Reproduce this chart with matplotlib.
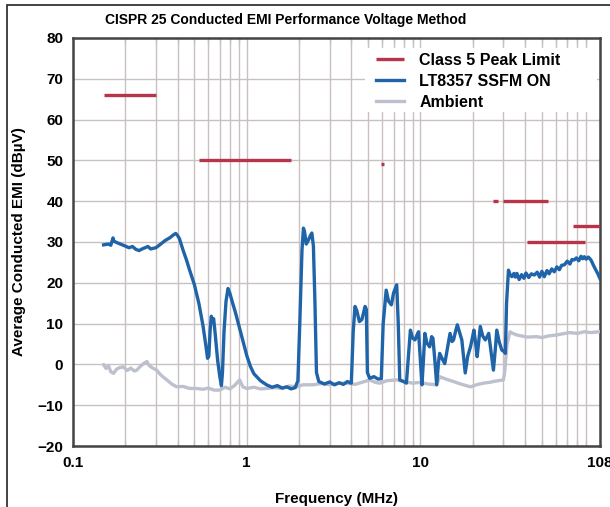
import matplotlib
matplotlib.use("Agg")
import matplotlib.pyplot as plt
from matplotlib.patches import Rectangle
from matplotlib.ticker import FixedLocator, LogLocator, NullFormatter

plt.rcParams['font.family'] = ['Liberation Sans', 'DejaVu Sans']
plt.rcParams['font.weight'] = 'bold'

# Class 5 peak limit segments: start MHz, stop MHz, level dBuV
limit_start = [0.15, 0.53, 5.9, 26.0, 30.0, 41.0, 76.0]
limit_stop = [0.30, 1.80, 6.2, 28.0, 54.0, 88.0, 108.0]
limit_level = [66, 50, 49, 40, 40, 30, 34]

# LT8357 SSFM ON
blue_f = [0.15, 0.16, 0.165, 0.17, 0.172, 0.18, 0.19, 0.20, 0.21, 0.22, 0.23, 0.24,
          0.25, 0.26, 0.27, 0.28, 0.30, 0.32, 0.34, 0.36, 0.38, 0.39, 0.40, 0.41,
          0.43, 0.45, 0.47, 0.50, 0.53, 0.56, 0.58, 0.595, 0.605, 0.615, 0.625, 0.635,
          0.645, 0.66, 0.68, 0.70, 0.715, 0.725, 0.74, 0.76, 0.78, 0.80, 0.83, 0.86,
          0.90, 0.95, 1.0, 1.05, 1.1, 1.2, 1.3, 1.4, 1.5, 1.6, 1.7, 1.8, 1.9, 1.97,
          2.02, 2.08, 2.12, 2.15, 2.2, 2.25, 2.32, 2.37, 2.42, 2.47, 2.52, 2.6, 2.8,
          3.0, 3.2, 3.4, 3.6, 3.8, 4.0, 4.1, 4.2, 4.3, 4.45, 4.6, 4.8, 4.88, 4.95,
          5.1, 5.4, 5.7, 5.95, 6.1, 6.35, 6.55, 6.8, 7.0, 7.3, 7.45, 7.6, 8.0, 8.3,
          8.6, 8.75, 9.0, 9.3, 9.55, 9.75, 9.95, 10.2, 10.4, 10.6, 10.9, 11.3, 11.6,
          11.8, 12.1, 12.4, 12.7, 12.9, 13.4, 13.8, 14.3, 14.8, 15.2, 15.5, 15.9,
          16.3, 16.8, 17.3, 17.7, 18.1, 18.7, 19.4, 19.9, 20.3, 20.8, 21.2, 21.7,
          22.1, 22.8, 23.6, 24.2, 24.7, 25.5, 26.3, 27.0, 27.5, 28.4, 29.4, 30.2,
          30.8, 31.3, 32.1, 32.8, 33.6, 34.5, 35.2, 35.9, 37.0, 38.2, 39.4, 40.5,
          42.0, 43.5, 45.2, 47.0, 48.5, 50.0, 51.6, 53.5, 55.0, 57.0, 58.9, 61.0,
          63.0, 65.0, 67.3, 70.0, 72.5, 74.5, 76.6, 79.0, 81.5, 84.0, 86.0, 87.7,
          90.0, 92.5, 95.8, 99.0, 102.0, 105.0, 108.0]
blue_v = [29.3, 29.5, 29.2, 31.0, 30.2, 29.8, 29.4, 29.0, 28.6, 28.9, 28.2, 27.9,
          28.3, 28.6, 28.9, 28.3, 28.6, 29.5, 30.4, 31.0, 31.8, 32.1, 31.6, 30.8,
          28.0, 25.6, 23.0, 19.5, 15.0, 9.5, 5.0, 1.5, 2.0, 8.0, 11.8, 10.8,
          11.2, 7.0, 1.0, -3.0, -5.2, -2.0, 8.0, 15.5, 18.6, 17.4, 15.0, 12.8,
          9.6, 5.8, 2.2, -0.5, -2.3, -4.0, -5.0, -5.6, -5.2, -5.8, -5.5, -6.0, -5.7, -4.0,
          10.0, 28.0, 33.4, 32.6, 29.5, 30.2, 31.5, 32.2, 29.0, 15.0, -2.0, -4.2, -4.8,
          -4.3, -5.0, -4.5, -4.9, -4.2, -4.6, 8.0, 14.2, 13.2, 10.5, 11.0, 14.2, 13.5, -2.0,
          -3.4, -3.0, -3.6, -3.5, 10.0, 18.2, 15.5, 14.6, 17.5, 19.5, 10.0, -3.8, -4.2, -4.6,
          4.0, 8.4, 6.5, 6.0, 7.2, 8.0, 2.0, -5.0, 1.0, 7.6, 5.2, 4.3, 6.8,
          6.4, 1.0, -5.0, 0.5, 2.7, 1.2, 0.2, 4.0, 7.6, 5.6, 6.0, 8.0,
          9.7, 7.8, 6.0, 2.0, -2.1, 2.0, 4.3, 6.5, 8.4, 5.0, 1.9, 6.0,
          9.3, 7.0, 6.0, 6.8, 7.6, 3.0, -1.4, 4.0, 8.4, 5.5, 3.5, 3.2,
          2.7, 15.0, 23.1, 22.0, 21.5, 22.3, 21.4, 22.3, 20.8, 22.0, 21.1, 22.4,
          21.3, 22.2, 21.9, 22.6, 21.4, 22.8, 21.5, 23.0, 22.2, 23.4, 22.7, 23.9,
          23.2, 24.3, 24.4, 25.3, 24.6, 25.7, 25.6, 26.1, 25.4, 26.5, 25.9, 26.4,
          25.8, 26.3, 25.6, 24.3, 23.2, 22.2, 21.0]

# Ambient
amb_f = [0.15, 0.155, 0.16, 0.165, 0.171, 0.178, 0.185, 0.195, 0.205, 0.215, 0.225,
         0.233, 0.245, 0.255, 0.266, 0.275, 0.285, 0.303, 0.32, 0.347, 0.37, 0.395,
         0.43, 0.47, 0.515, 0.56, 0.6, 0.65, 0.7, 0.75, 0.8, 0.85, 0.91, 0.95, 1.0,
         1.1, 1.2, 1.3, 1.45, 1.6, 1.75, 1.94, 2.1, 2.4, 2.7, 3.0, 3.4, 3.76, 4.2,
         4.6, 5.1, 5.5, 5.83, 6.4, 7.3, 8.0, 9.0, 10.0, 11.0, 12.4, 12.9, 14.0, 15.5,
         17.0, 19.4, 21.0, 23.0, 25.0, 27.0, 30.0, 30.5, 31.5, 32.8, 34.0, 35.9, 38.0,
         41.0, 46.5, 50.0, 55.0, 60.6, 66.0, 72.0, 80.0, 87.7, 95.0, 107.0]
amb_v = [-0.1, -1.0, -0.3, -1.8, -2.2, -1.2, -0.8, -0.6, -1.5, -0.9, -1.6,
         -1.4, -0.4, 0.2, 0.7, -0.3, -0.8, -1.4, -2.6, -3.8, -4.8, -5.5,
         -5.4, -5.9, -5.9, -6.1, -5.8, -6.3, -6.3, -5.6, -6.0, -5.2, -3.8, -5.5, -5.9,
         -5.6, -6.0, -5.9, -5.7, -5.9, -5.3, -5.5, -5.0, -5.0, -4.7, -5.0, -4.6, -4.6, -4.9,
         -4.4, -3.8, -4.4, -4.6, -4.0, -3.8, -4.2, -4.6, -4.4, -4.8, -5.0, -3.0, -3.6, -4.2,
         -4.8, -5.5, -5.0, -4.6, -4.4, -4.1, -3.8, -2.1, 5.0, 8.0, 7.6, 7.2, 7.0,
         6.7, 6.8, 6.6, 7.0, 7.2, 7.5, 7.8, 7.6, 8.0, 7.8, 8.0]

red = '#b8334c'
blue = '#1f63a8'
gray = '#bcc1cd'
grid_c = '#c9c0c0'

fig = plt.figure(figsize=(6.1, 5.07), dpi=100)
ax = fig.add_axes([73 / 610, 61 / 507, 527 / 610, 408 / 507])

ax.plot(amb_f, amb_v, color=gray, lw=2.4, label='Ambient', zorder=3)
ax.plot(blue_f, blue_v, color=blue, lw=2.4, label='LT8357 SSFM ON', zorder=4)
for i in range(len(limit_level)):
    ax.plot([limit_start[i], limit_stop[i]], [limit_level[i], limit_level[i]],
            color=red, lw=2.4, solid_capstyle='butt', zorder=5,
            label='Class 5 Peak Limit' if i == 0 else None)

ax.set_xscale('log')
ax.set_xlim(0.1, 108)
ax.set_ylim(-20, 80)
ax.set_yticks(range(-20, 81, 10))
ax.xaxis.set_major_locator(FixedLocator([0.1, 1, 10, 108]))
ax.set_xticklabels(['0.1', '1', '10', '108'])
ax.xaxis.set_minor_locator(LogLocator(base=10, subs=range(2, 10)))
ax.xaxis.set_minor_formatter(NullFormatter())

ax.grid(True, which='both', axis='x', color=grid_c, lw=1.0)
ax.grid(True, which='major', axis='y', color=grid_c, lw=1.0)
ax.set_axisbelow(True)

ax.tick_params(which='both', direction='in', top=True, right=True, color=grid_c,
               labelsize=11, pad=7, width=1)
ax.tick_params(which='major', length=0)
ax.tick_params(which='minor', length=4)
for lab in ax.get_xticklabels() + ax.get_yticklabels():
    lab.set_fontweight('bold')
for sp in ax.spines.values():
    sp.set_color('#444444')
    sp.set_linewidth(1.8)

ax.set_xlabel('Frequency (MHz)', fontsize=11, fontweight='bold', labelpad=16)
ax.set_ylabel('Average Conducted EMI (dBµV)', fontsize=11, fontweight='bold', labelpad=8)

# white patch behind the legend hides the grid there
ax.add_patch(Rectangle((0.554, 0.8186), 0.44, 0.158, transform=ax.transAxes,
                       facecolor='white', edgecolor='none', zorder=2))

handles, labels = ax.get_legend_handles_labels()
order = [labels.index('Class 5 Peak Limit'), labels.index('LT8357 SSFM ON'), labels.index('Ambient')]
leg = ax.legend([handles[i] for i in order], [labels[i] for i in order],
                loc='upper left', bbox_to_anchor=(0.575, 0.964), frameon=False,
                fontsize=11.5, handlelength=1.75, handletextpad=0.95, labelspacing=0.38,
                borderpad=0, borderaxespad=0)
for t in leg.get_texts():
    t.set_fontweight('bold')
leg.set_zorder(6)

fig.text(286 / 610, 1 - 20 / 507, 'CISPR 25 Conducted EMI Performance Voltage Method',
         ha='center', va='center', fontsize=10, fontweight='bold')

fig.patches.append(Rectangle((7 / 610, -0.05), 1.1, 1.05 - 5 / 507, transform=fig.transFigure,
                             fill=False, edgecolor='#222222', lw=1.2, figure=fig))

fig.savefig('out.png', dpi=100)
